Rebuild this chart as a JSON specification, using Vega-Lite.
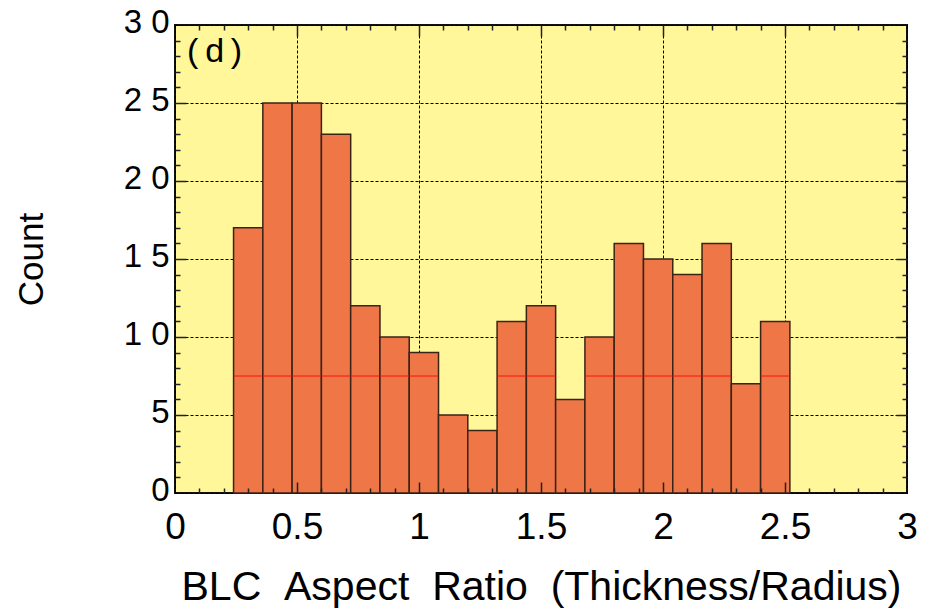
{
  "$schema": "https://vega.github.io/schema/vega-lite/v6.json",
  "width": 732,
  "height": 468,
  "autosize": {"type": "none"},
  "padding": {"left": 175, "top": 25, "right": 30, "bottom": 122},
  "background": "white",
  "config": {
    "view": {"fill": "#fff799", "stroke": "#111111", "strokeWidth": 2},
    "axis": {"domain": false}
  },
  "data": {
    "values": [
      {"start": 0.24, "end": 0.36, "count": 17},
      {"start": 0.36, "end": 0.48, "count": 25},
      {"start": 0.48, "end": 0.60, "count": 25},
      {"start": 0.60, "end": 0.72, "count": 23},
      {"start": 0.72, "end": 0.84, "count": 12},
      {"start": 0.84, "end": 0.96, "count": 10},
      {"start": 0.96, "end": 1.08, "count": 9},
      {"start": 1.08, "end": 1.20, "count": 5},
      {"start": 1.20, "end": 1.32, "count": 4},
      {"start": 1.32, "end": 1.44, "count": 11},
      {"start": 1.44, "end": 1.56, "count": 12},
      {"start": 1.56, "end": 1.68, "count": 6},
      {"start": 1.68, "end": 1.80, "count": 10},
      {"start": 1.80, "end": 1.92, "count": 16},
      {"start": 1.92, "end": 2.04, "count": 15},
      {"start": 2.04, "end": 2.16, "count": 14},
      {"start": 2.16, "end": 2.28, "count": 16},
      {"start": 2.28, "end": 2.40, "count": 7},
      {"start": 2.40, "end": 2.52, "count": 11}
    ]
  },
  "resolve": {"axis": {"x": "independent", "y": "independent"}},
  "layer": [
    {
      "mark": {"type": "bar", "fill": "#ef7646", "stroke": "#3a2418", "strokeWidth": 1.5},
      "encoding": {
        "x": {
          "field": "start", "type": "quantitative",
          "scale": {"domain": [0, 3], "nice": false, "zero": false},
          "axis": {
            "orient": "bottom",
            "values": [0, 0.5, 1, 1.5, 2, 2.5, 3],
            "format": "~g",
            "ticks": false,
            "grid": true, "gridColor": "#000000", "gridDash": [3, 2], "gridWidth": 1, "gridOpacity": 1,
            "labelFont": "Liberation Sans", "labelFontSize": 37, "labelColor": "#000000",
            "labelPadding": 16, "labelFlush": false, "labelOverlap": false,
            "title": "BLC\u00a0\u00a0Aspect\u00a0\u00a0Ratio\u00a0\u00a0(Thickness/Radius)",
            "titleFont": "Liberation Sans", "titleFontSize": 41, "titleFontWeight": "normal",
            "titleColor": "#000000", "titlePadding": 22,
            "zindex": 0
          }
        },
        "x2": {"field": "end"},
        "y": {
          "field": "count", "type": "quantitative",
          "scale": {"domain": [0, 30], "nice": false},
          "axis": {
            "orient": "left",
            "values": [0, 5, 10, 15, 20, 25, 30],
            "ticks": false,
            "grid": true, "gridColor": "#000000", "gridDash": [3, 2], "gridWidth": 1, "gridOpacity": 1,
            "labelExpr": "datum.value >= 10 ? floor(datum.value / 10) + '\u00a0' + (datum.value % 10) : datum.label",
            "labelFont": "Liberation Sans", "labelFontSize": 33, "labelColor": "#000000",
            "labelPadding": 6, "labelOffset": -3, "labelFlush": false, "labelOverlap": false,
            "title": "Count",
            "titleFont": "Liberation Sans", "titleFontSize": 35, "titleFontWeight": "normal",
            "titleColor": "#000000", "titlePadding": 74,
            "zindex": 0
          }
        },
        "y2": {"datum": 0}
      }
    },
    {
      "transform": [{"filter": "datum.count > 7.5"}],
      "mark": {"type": "rule", "color": "#ff0000", "strokeWidth": 1, "opacity": 0.85},
      "encoding": {
        "x": {"field": "start", "type": "quantitative", "axis": null},
        "x2": {"field": "end"},
        "y": {"datum": 7.5, "type": "quantitative", "axis": null}
      }
    },
    {
      "mark": {"type": "bar", "opacity": 0},
      "encoding": {
        "x": {
          "field": "start", "type": "quantitative",
          "axis": {
            "orient": "bottom",
            "values": [0.1,0.2,0.3,0.4,0.5,0.6,0.7,0.8,0.9,1,1.1,1.2,1.3,1.4,1.5,1.6,1.7,1.8,1.9,2,2.1,2.2,2.3,2.4,2.5,2.6,2.7,2.8,2.9],
            "labels": false, "grid": false, "title": null,
            "tickColor": "#222222", "tickWidth": 1.5,
            "tickSize": {"condition": {"test": "abs(datum.value * 2 - round(datum.value * 2)) < 0.001", "value": -11}, "value": -5},
            "zindex": 1
          }
        },
        "x2": {"field": "end"},
        "y": {
          "field": "count", "type": "quantitative",
          "axis": {
            "orient": "left",
            "values": [1,2,3,4,5,6,7,8,9,10,11,12,13,14,15,16,17,18,19,20,21,22,23,24,25,26,27,28,29],
            "labels": false, "grid": false, "title": null,
            "tickColor": "#222222", "tickWidth": 1.5,
            "tickSize": {"condition": {"test": "datum.value % 5 === 0", "value": -11}, "value": -5},
            "zindex": 1
          }
        },
        "y2": {"datum": 0}
      }
    },
    {
      "mark": {"type": "bar", "opacity": 0},
      "encoding": {
        "x": {
          "field": "start", "type": "quantitative",
          "axis": {
            "orient": "top",
            "values": [0.1,0.2,0.3,0.4,0.5,0.6,0.7,0.8,0.9,1,1.1,1.2,1.3,1.4,1.5,1.6,1.7,1.8,1.9,2,2.1,2.2,2.3,2.4,2.5,2.6,2.7,2.8,2.9],
            "labels": false, "grid": false, "title": null,
            "tickColor": "#222222", "tickWidth": 1.5,
            "tickSize": {"condition": {"test": "abs(datum.value * 2 - round(datum.value * 2)) < 0.001", "value": -11}, "value": -5},
            "zindex": 1
          }
        },
        "x2": {"field": "end"},
        "y": {
          "field": "count", "type": "quantitative",
          "axis": {
            "orient": "right",
            "values": [1,2,3,4,5,6,7,8,9,10,11,12,13,14,15,16,17,18,19,20,21,22,23,24,25,26,27,28,29],
            "labels": false, "grid": false, "title": null,
            "tickColor": "#222222", "tickWidth": 1.5,
            "tickSize": {"condition": {"test": "datum.value % 5 === 0", "value": -11}, "value": -5},
            "zindex": 1
          }
        },
        "y2": {"datum": 0}
      }
    },
    {
      "data": {"values": [{"label": "(\u2009d\u2009)"}]},
      "mark": {"type": "text", "font": "Liberation Sans", "fontSize": 34, "fontWeight": "normal", "color": "#000000", "align": "left", "baseline": "middle", "dx": 12, "dy": 27},
      "encoding": {
        "text": {"field": "label"},
        "x": {"datum": 0, "type": "quantitative", "axis": null},
        "y": {"datum": 30, "type": "quantitative", "axis": null}
      }
    }
  ]
}
